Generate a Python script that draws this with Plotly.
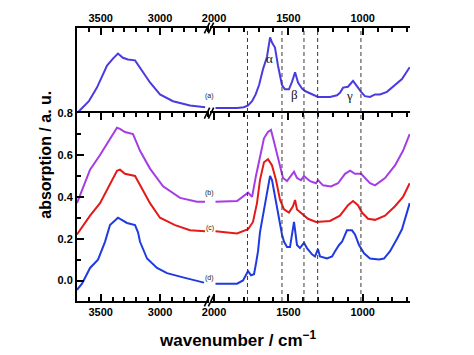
import plotly.graph_objects as go

# ---------------- data ----------------
# curve (a) – top panel
wn_a_hi = [3700, 3600, 3532, 3447, 3397, 3355, 3313, 3271, 3211, 3169, 3085, 3001, 2891, 2748, 2620]
a_hi = [0.0, 0.14, 0.30, 0.56, 0.64, 0.70, 0.65, 0.63, 0.62, 0.53, 0.36, 0.22, 0.14, 0.09, 0.07]
wn_a_lo = [1990, 1900, 1845, 1800, 1771, 1744, 1720, 1697, 1670, 1644, 1623, 1610, 1590, 1570, 1543,
           1523, 1496, 1475, 1455, 1435, 1408, 1388, 1354, 1301, 1260, 1220, 1173, 1153, 1132, 1099,
           1065, 1038, 1011, 985, 951, 917, 884, 837, 783, 736, 684]
a_lo = [0.06, 0.06, 0.06, 0.07, 0.09, 0.14, 0.22, 0.33, 0.52, 0.66, 0.89, 0.83, 0.77, 0.56, 0.33,
        0.28, 0.28, 0.37, 0.48, 0.36, 0.29, 0.26, 0.23, 0.19, 0.19, 0.19, 0.21, 0.24, 0.30, 0.31,
        0.38, 0.31, 0.25, 0.20, 0.19, 0.22, 0.22, 0.25, 0.33, 0.40, 0.54]

# curve (b)
wn_b_hi = [3700, 3590, 3506, 3422, 3363, 3338, 3296, 3228, 3169, 3085, 2975, 2832, 2689, 2622]
b_hi = [0.37, 0.53, 0.60, 0.68, 0.73, 0.725, 0.71, 0.70, 0.62, 0.535, 0.45, 0.395, 0.377, 0.377]
wn_b_lo = [1990, 1845, 1771, 1744, 1718, 1691, 1664, 1637, 1617, 1597, 1576, 1556, 1536, 1509,
           1482, 1462, 1442, 1415, 1395, 1354, 1314, 1301, 1267, 1213, 1166, 1119, 1085, 1052,
           1011, 985, 951, 917, 850, 783, 729, 684]
b_lo = [0.377, 0.38, 0.42, 0.40, 0.50, 0.59, 0.68, 0.71, 0.72, 0.665, 0.605, 0.545, 0.49, 0.475,
        0.50, 0.52, 0.49, 0.48, 0.50, 0.475, 0.465, 0.48, 0.455, 0.45, 0.465, 0.51, 0.525, 0.51,
        0.51, 0.49, 0.465, 0.455, 0.49, 0.55, 0.62, 0.70]

# curve (c)
wn_c_hi = [3700, 3590, 3506, 3422, 3363, 3338, 3296, 3211, 3169, 3085, 3001, 2874, 2748, 2622]
c_hi = [0.22, 0.31, 0.37, 0.465, 0.525, 0.53, 0.51, 0.50, 0.455, 0.37, 0.30, 0.265, 0.24, 0.235]
wn_c_lo = [1990, 1845, 1771, 1738, 1711, 1691, 1664, 1637, 1623, 1610, 1583, 1556, 1529, 1496,
           1469, 1455, 1442, 1408, 1368, 1314, 1220, 1153, 1099, 1065, 1032, 1005, 964, 917,
           850, 783, 729, 684]
c_lo = [0.235, 0.225, 0.245, 0.28, 0.37, 0.48, 0.565, 0.58, 0.565, 0.55, 0.48, 0.385, 0.34, 0.325,
        0.355, 0.385, 0.34, 0.32, 0.295, 0.28, 0.285, 0.31, 0.36, 0.38, 0.36, 0.325, 0.295, 0.29,
        0.31, 0.355, 0.40, 0.465]

# curve (d)
wn_d_hi = [3700, 3658, 3590, 3523, 3464, 3422, 3355, 3279, 3211, 3186, 3169, 3110, 3026, 2942, 2807, 2630]
d_hi = [-0.045, -0.015, 0.06, 0.10, 0.185, 0.265, 0.30, 0.275, 0.265, 0.23, 0.185, 0.105, 0.06,
        0.035, 0.015, -0.01]
wn_d_lo = [1990, 1845, 1805, 1771, 1751, 1731, 1718, 1704, 1691, 1657, 1644, 1623, 1610, 1590,
           1563, 1543, 1529, 1509, 1489, 1462, 1442, 1422, 1395, 1375, 1341, 1321, 1301, 1287,
           1240, 1206, 1186, 1159, 1139, 1106, 1072, 1052, 1025, 991, 951, 890, 857, 816, 769,
           736, 684]
d_lo = [-0.015, -0.015, 0.0, 0.045, 0.025, 0.03, 0.08, 0.14, 0.23, 0.37, 0.43, 0.50, 0.48, 0.40,
        0.31, 0.22, 0.185, 0.16, 0.16, 0.28, 0.17, 0.155, 0.18, 0.155, 0.125, 0.115, 0.15, 0.115,
        0.105, 0.115, 0.14, 0.17, 0.185, 0.24, 0.24, 0.22, 0.17, 0.13, 0.105, 0.10, 0.105, 0.14,
        0.20, 0.245, 0.37]

marker_lines = [1775, 1543, 1395, 1303, 1012]
curve_labels = ["(a)", "(b)", "(c)", "(d)"]
label_vals = [0.2, 0.417, 0.253, 0.014]
band_names = ["α", "β", "γ"]
band_pos = [1626, 1458, 1088]
band_vals = [0.64, 0.22, 0.21]

col_a = "#4a3be0"
col_b = "#a63ce6"
col_c = "#e41a1a"
col_d = "#1f3be0"

fig = go.Figure()

def add(x, y, xa, ya, col):
    fig.add_trace(go.Scatter(x=x, y=y, xaxis=xa, yaxis=ya, mode="lines",
                             line=dict(color=col, width=2), showlegend=False, hoverinfo="skip"))

add(wn_a_hi, a_hi, "x", "y", col_a)
add(wn_a_lo, a_lo, "x2", "y", col_a)
add(wn_b_hi, b_hi, "x3", "y2", col_b)
add(wn_b_lo, b_lo, "x4", "y2", col_b)
add(wn_c_hi, c_hi, "x3", "y2", col_c)
add(wn_c_lo, c_lo, "x4", "y2", col_c)
add(wn_d_hi, d_hi, "x3", "y2", col_d)
add(wn_d_lo, d_lo, "x4", "y2", col_d)

tickfont = dict(family="Liberation Sans", size=11, color="black", weight="bold")
dom_l = [0, 0.3964]
dom_r = [0.3994, 1]
rng_l = [3700, 2588]
rng_r = [2027, 682]

def xax(dom, rng, anchor, side, mirror):
    return dict(domain=dom, range=rng, anchor=anchor, side=side, mirror=mirror,
                showline=True, linewidth=2, linecolor="black",
                ticks="inside", ticklen=7, tickwidth=2, tickcolor="black",
                tick0=0, dtick=500, tickfont=tickfont, showgrid=False, zeroline=False,
                minor=dict(dtick=100, ticks="inside", ticklen=4, tickwidth=1.5,
                           tickcolor="black", showgrid=False))

ytop = 0.688
fig.update_layout(
    width=474, height=355,
    margin=dict(l=77, r=64, t=22, b=54),
    paper_bgcolor="white", plot_bgcolor="white",
    xaxis=xax(dom_l, rng_l, "y", "top", False),
    xaxis2=xax(dom_r, rng_r, "y", "top", False),
    xaxis3=xax(dom_l, rng_l, "y2", "bottom", "ticks"),
    xaxis4=xax(dom_r, rng_r, "y2", "bottom", "ticks"),
    yaxis=dict(domain=[ytop, 1], range=[0, 1], anchor="x", showline=True, linewidth=2,
               linecolor="black", ticks="", showticklabels=False, showgrid=False, zeroline=False),
    yaxis4=dict(overlaying="y", side="right", anchor="x2", range=[0, 1], showline=True,
                linewidth=2, linecolor="black", ticks="", showticklabels=False,
                showgrid=False, zeroline=False),
    yaxis2=dict(domain=[0, ytop], range=[-0.098, 0.8], anchor="x3", showline=True, linewidth=2,
                linecolor="black", ticks="inside", ticklen=7, tickwidth=2, tickcolor="black",
                tick0=0, dtick=0.2, tickformat=".1f", tickfont=tickfont, showgrid=False,
                zeroline=False,
                minor=dict(dtick=0.1, ticks="inside", ticklen=4, tickwidth=1.5, tickcolor="black")),
    yaxis3=dict(overlaying="y2", side="right", anchor="x4", range=[-0.098, 0.8], showline=True,
                linewidth=2, linecolor="black", ticks="inside", ticklen=7, tickwidth=2,
                tickcolor="black", tick0=0, dtick=0.2, showticklabels=False, showgrid=False,
                zeroline=False,
                minor=dict(dtick=0.1, ticks="inside", ticklen=4, tickwidth=1.5, tickcolor="black")),
)

# dashed marker lines spanning both panels
for wn in marker_lines:
    fig.add_shape(type="line", xref="x4", yref="paper", x0=wn, x1=wn, y0=0, y1=1,
                  line=dict(color="#3a3a3a", width=1, dash="4px,3px"))

# axis break marks
for yb in [1.0, ytop, 0.0]:
    for xb in [0.3904, 0.4024]:
        fig.add_shape(type="line", xref="paper", yref="paper",
                      x0=xb - 0.008, x1=xb + 0.008, y0=yb - 0.02, y1=yb + 0.02,
                      line=dict(color="black", width=1.6))

# curve labels (placed at the axis break)
ann_y = ["y", "y2", "y2", "y2"]
for lab, v, ya in zip(curve_labels, label_vals, ann_y):
    fig.add_annotation(x=0.398, y=v, xref="paper", yref=ya, text=lab, showarrow=False,
                       font=dict(family="Liberation Sans", size=7, color="#222222"))

for lab, wn, v in zip(band_names, band_pos, band_vals):
    fig.add_annotation(x=wn, y=v, xref="x2", yref="y", text=lab, showarrow=False,
                       font=dict(family="Liberation Serif", size=13, color="#111111"))

# axis titles
fig.add_annotation(x=0.482, y=-0.14, xref="paper", yref="paper", yanchor="middle",
                   text="wavenumber / cm<sup>−1</sup>", showarrow=False,
                   font=dict(family="Liberation Sans", size=17, color="black", weight="bold"))
fig.add_annotation(x=-0.126, y=0.534, xref="paper", yref="paper", textangle=-90,
                   text="absorption / a. u.", showarrow=False,
                   font=dict(family="Liberation Sans", size=16, color="black", weight="bold"))

fig.write_html("out.html", config={"displayModeBar": False},
               post_script="document.body.style.margin='0';")
